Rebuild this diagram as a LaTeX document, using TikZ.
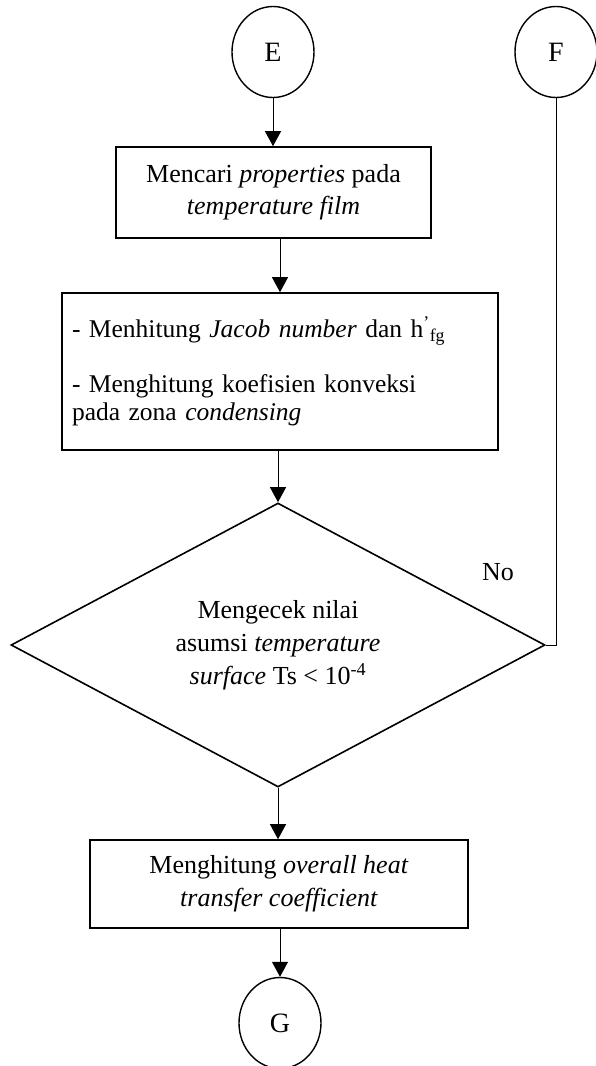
\documentclass[tikz,border=0pt]{standalone}
\usepackage{fontspec}
\setmainfont{Liberation Serif}
\usetikzlibrary{shapes.geometric,arrows.meta}
\newcommand{\fsz}{\fontsize{26}{30}\selectfont}
\newcommand{\fmid}{\fontsize{25.5}{28}\selectfont}
\newcommand{\fbig}{\fontsize{28}{32}\selectfont}
\begin{document}
\begin{tikzpicture}[x=1pt,y=-1pt,
  box/.style={draw,line width=1.6pt,inner sep=0pt,font=\fsz},
  conn/.style={draw,ellipse,line width=1.4pt,minimum width=82pt,minimum height=91pt,inner sep=0pt,font=\fbig},
  arr/.style={line width=1pt,-{Triangle[width=16pt,length=15pt]}},
  ln/.style={line width=1pt}]
\useasboundingbox (0,0) rectangle (596,1066);

\node[conn] (E) at (273,52) {E};
\node[conn] (F) at (556,52) {F};

\node[box,minimum width=315pt,minimum height=91pt,align=center] (b1) at (273.5,192.5)
  {Mencari \textit{properties} pada\\[2pt]\textit{temperature film}};

\node[box,minimum width=436pt,minimum height=157pt,text width=416pt,align=left,font=\fmid] (b2) at (280,371.5)
  {- Menhitung \textit{Jacob number} dan h\textsuperscript{'}\textsubscript{fg}\\[27pt]
   - Menghitung koefisien konveksi\\
   pada zona \textit{condensing}};

\node[draw,diamond,aspect=1.88,line width=1.6pt,minimum width=534pt,minimum height=284pt,inner sep=0pt,align=center,font=\fsz] (d) at (278,645)
  {Mengecek nilai\\[3pt]asumsi \textit{temperature}\\[3pt]\textit{surface} Ts < 10\textsuperscript{-4}};

\node[font=\fsz,anchor=base west,inner sep=0pt] (no) at (482,580) {No};

\node[box,minimum width=378pt,minimum height=88pt,align=center] (b3) at (279,884)
  {Menghitung \textit{overall heat}\\[3pt]\textit{transfer coefficient}};

\node[conn] (G) at (280,1023) {G};

\draw[arr] (E.south) -- (E.south |- b1.north);
\draw[arr] (b1.south -| b2.north) -- (b2.north);
\draw[arr] (b2.south -| d.north) -- (d.north);
\draw[arr] (d.south) -- (b3.north -| d.south);
\draw[arr] (b3.south -| G.north) -- (G.north);
\draw[ln] (F.south) -- (F.south |- d.east) -- (d.east);
\end{tikzpicture}
\end{document}
